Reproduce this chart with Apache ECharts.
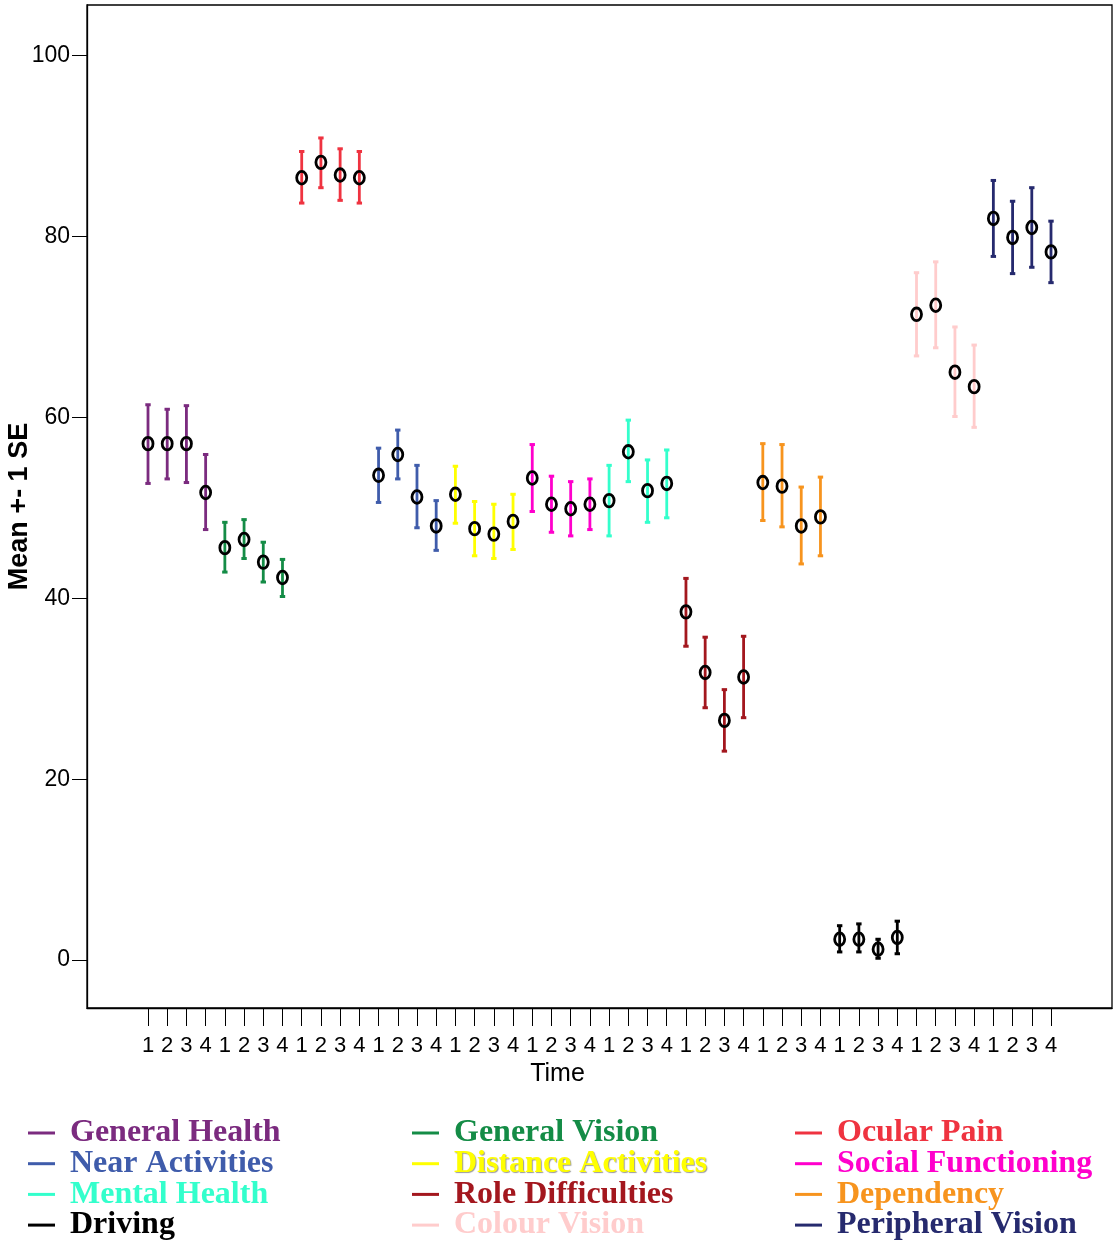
<!DOCTYPE html>
<html>
<head>
<meta charset="utf-8">
<script src="https://cdn.jsdelivr.net/npm/echarts@6/dist/echarts.min.js"></script>
<style>
  html, body { margin: 0; padding: 0; background: #fff; }
  #main { width: 1117px; height: 1243px; }
</style>
</head>
<body>
<div id="main"></div>
<script>
// scales, groups in the order they appear along the time axis
var groupNames = ['General Health', 'General Vision', 'Ocular Pain', 'Near Activities',
                  'Distance Activities', 'Social Functioning', 'Mental Health', 'Role Difficulties',
                  'Dependency', 'Driving', 'Colour Vision', 'Peripheral Vision'];
var groupColors = ['#7B2B7F', '#148C46', '#EF3340', '#3F5CAB',
                   '#FFFF00', '#FF00CC', '#33FFCC', '#A3171E',
                   '#F7941E', '#000000', '#FFCCCC', '#262A6E'];
var timeLabels = ['1', '2', '3', '4'];

// mean per time point (rows = groups)
var meanValues = [
    [57.1, 57.1, 57.1, 51.7],
    [45.6, 46.5, 44.0, 42.3],
    [86.5, 88.2, 86.8, 86.5],
    [53.6, 55.9, 51.2, 48.0],
    [51.5, 47.7, 47.1, 48.5],
    [53.3, 50.4, 49.9, 50.4],
    [50.8, 56.2, 51.9, 52.7],
    [38.5, 31.8, 26.5, 31.3],
    [52.8, 52.4, 48.0, 49.0],
    [2.3, 2.3, 1.2, 2.5],
    [71.4, 72.4, 65.0, 63.4],
    [82.0, 79.9, 81.0, 78.3]
];
// mean - 1 SE
var lowerValues = [
    [52.7, 53.2, 52.8, 47.6],
    [42.9, 44.4, 41.8, 40.2],
    [83.7, 85.4, 84.0, 83.7],
    [50.6, 53.2, 47.8, 45.3],
    [48.3, 44.7, 44.4, 45.4],
    [49.6, 47.3, 46.9, 47.6],
    [46.9, 52.9, 48.4, 48.9],
    [34.7, 27.9, 23.1, 26.8],
    [48.6, 47.9, 43.8, 44.7],
    [0.9, 0.9, 0.2, 0.7],
    [66.8, 67.7, 60.1, 58.9],
    [77.8, 75.9, 76.6, 74.9]
];
// mean + 1 SE
var upperValues = [
    [61.4, 60.9, 61.3, 55.9],
    [48.4, 48.7, 46.2, 44.3],
    [89.4, 90.9, 89.7, 89.4],
    [56.6, 58.6, 54.7, 50.8],
    [54.6, 50.7, 50.4, 51.5],
    [57.0, 53.5, 52.9, 53.2],
    [54.7, 59.7, 55.3, 56.4],
    [42.2, 35.7, 29.9, 35.8],
    [57.1, 57.0, 52.3, 53.4],
    [3.8, 4.0, 2.3, 4.3],
    [76.0, 77.2, 70.0, 68.0],
    [86.2, 83.9, 85.4, 81.7]
];
var yTicks = [0, 20, 40, 60, 80, 100];

var tickPositions = [];
for (var k = 1; k <= groupNames.length * timeLabels.length; k++) tickPositions.push(k);

var narrow = "'Liberation Sans Narrow', 'Arial Narrow', 'Liberation Sans', sans-serif";

function renderBar(params, api) {
    var x = api.value(0);
    var c = api.coord([x, api.value(1)]);
    var lo = api.coord([x, api.value(2)]);
    var hi = api.coord([x, api.value(3)]);
    var col = api.visual('color');
    return {
        type: 'group',
        children: [
            { type: 'line', shape: { x1: c[0], y1: lo[1], x2: c[0], y2: hi[1] },
              style: { stroke: col, lineWidth: 2.8 } },
            { type: 'rect', shape: { x: c[0] - 2.7, y: hi[1] - 1.5, width: 5.4, height: 3 },
              style: { fill: col } },
            { type: 'rect', shape: { x: c[0] - 2.7, y: lo[1] - 1.5, width: 5.4, height: 3 },
              style: { fill: col } },
            { type: 'ellipse', shape: { cx: c[0], cy: c[1], rx: 5, ry: 6.3 },
              style: { fill: null, stroke: '#000', lineWidth: 2.8 } }
        ]
    };
}

var series = groupNames.map(function (name, g) {
    var data = timeLabels.map(function (t, i) {
        return [g * timeLabels.length + i + 1, meanValues[g][i], lowerValues[g][i], upperValues[g][i]];
    });
    return {
        name: name,
        type: 'custom',
        renderItem: renderBar,
        itemStyle: { color: groupColors[g] },
        encode: { x: 0, y: [1, 2, 3] },
        data: data
    };
});

function legendBlock(idxs, left) {
    return {
        orient: 'vertical',
        left: left,
        top: 1117,
        height: 126,
        padding: 0,
        icon: 'rect',
        itemWidth: 27,
        itemHeight: 3,
        itemGap: -1.3,
        selectedMode: false,
        textStyle: {
            fontFamily: "'Liberation Serif', 'Times New Roman', serif",
            fontWeight: 'bold',
            fontSize: 32,
            padding: [0, 0, 0, 10]
        },
        data: idxs.map(function (g) {
            var ts = { color: groupColors[g] };
            if (groupNames[g] === 'Distance Activities') {
                ts.textShadowColor = '#9a9a9a';
                ts.textShadowOffsetX = 1;
                ts.textShadowOffsetY = 1;
                ts.textShadowBlur = 1;
            }
            return { name: groupNames[g], textStyle: ts };
        })
    };
}

var option = {
    backgroundColor: '#fff',
    animation: false,
    grid: {
        left: 87, top: 5, width: 1025, height: 1003,
        outerBoundsMode: 'none',
        containLabel: false,
        show: true, borderColor: '#000', borderWidth: 1.3, backgroundColor: 'transparent'
    },
    legend: [
        legendBlock([0, 3, 6, 9], 28),
        legendBlock([1, 4, 7, 10], 412),
        legendBlock([2, 5, 8, 11], 795)
    ],
    xAxis: {
        type: 'value',
        min: -2.175,
        max: 51.175,
        name: 'Time',
        nameLocation: 'middle',
        nameGap: 52,
        nameTextStyle: { fontFamily: narrow, fontSize: 25, color: '#000', padding: [0, 84, 0, 0] },
        axisLine: { show: true, onZero: false, lineStyle: { color: '#000', width: 1.3 } },
        axisTick: { show: true, customValues: tickPositions, length: 18, lineStyle: { color: '#000', width: 1 } },
        axisLabel: {
            customValues: tickPositions,
            margin: 27,
            fontFamily: narrow,
            fontSize: 22,
            color: '#000',
            formatter: function (v) { return timeLabels[(Math.round(v) - 1) % timeLabels.length]; }
        },
        splitLine: { show: false }
    },
    yAxis: {
        type: 'value',
        min: -5.3,
        max: 105.6,
        name: 'Mean +- 1 SE',
        nameLocation: 'middle',
        nameRotate: 90,
        nameGap: 67,
        nameMoveOverlap: false,
        nameTextStyle: { fontFamily: narrow, fontWeight: 'bold', fontSize: 27, color: '#000',
                         verticalAlign: 'middle' },
        axisLine: { show: true, onZero: false, lineStyle: { color: '#000', width: 1.3 } },
        axisTick: { show: true, customValues: yTicks, length: 15, lineStyle: { color: '#000', width: 1 } },
        axisLabel: {
            customValues: yTicks,
            margin: 17,
            fontFamily: narrow,
            fontSize: 23,
            color: '#000'
        },
        splitLine: { show: false }
    },
    series: series
};

var chart = echarts.init(document.getElementById('main'), null, { renderer: 'canvas' });
chart.setOption(option);
</script>
</body>
</html>
